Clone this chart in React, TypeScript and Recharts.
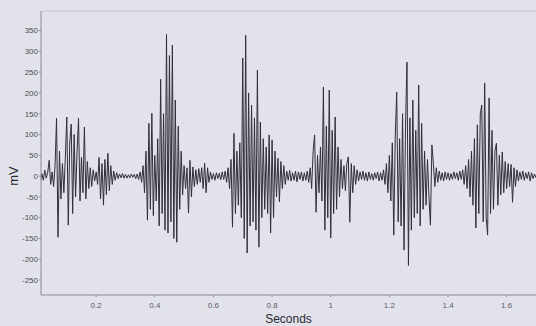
import React from "react";
import { LineChart, Line, XAxis, YAxis, ReferenceLine } from "recharts";

// sampling step of the trace (seconds)
const STEP = 0.005;

// mV values, 0.1 s per chunk
const sec00 = [-8, 12, -15, 6, -10, 14, -5, 9, 38, -20, 10, -25, 25, 139, -147, 60, -55, 30, -40, 45];
const sec01 = [142, -118, 80, 125, -90, 100, -50, 60, 139, -60, 45, -40, 118, -55, 35, -30, 20, -25, 15, -12];
const sec02 = [10, -20, 45, -55, 30, -70, 40, -45, 55, -35, 25, -20, 12, -10, 8, -6, 5, -4, 6, -5];
const sec03 = [4, -5, 3, -4, 5, -3, 4, -6, 5, -8, 10, -15, 25, -40, 60, -106, 127, -80, 151, -95];
const sec04 = [50, -60, 90, -120, 233, -90, 150, -130, 341, -137, 290, -110, 315, -150, 183, -159, 120, -80, 60, -45];
const sec05 = [25, -30, 20, -89, 38, -50, 22, -25, 15, -20, 18, -15, 20, -30, 31, -40, 20, -15, 10, -8];
const sec06 = [6, -10, 8, -6, 7, -9, 10, -8, 12, -15, 20, -30, 40, -123, 103, -90, 60, -70, 80, -100];
const sec07 = [284, -150, 339, -185, 200, -120, 171, -110, 140, -130, 255, -171, 130, -100, 90, -80, 70, -90, 99, -137];
const sec08 = [87, -100, 60, -50, 43, -62, 35, -30, 25, -20, 12, -10, 14, -12, 8, -10, 12, -14, 10, -8];
const sec09 = [10, -12, 8, -10, 12, -15, 20, -30, 60, 99, -87, 50, -40, 70, -60, 214, -130, 120, -100, 207];
const sec10 = [-149, 110, -90, 142, -80, 70, -50, 40, -30, 25, -35, 30, 46, -111, 30, -40, 25, -20, 15, -12];
const sec11 = [10, -8, 12, -10, 8, -12, 10, -8, 6, -10, 8, -6, 10, -12, 8, -10, 15, -20, 30, -40];
const sec12 = [50, -60, 80, -142, 94, 202, -110, 90, -120, 150, -178, 120, 274, -215, 140, -130, 183, -100, 110, -90];
const sec13 = [219, -120, 127, -80, 60, -70, 40, -50, -118, 75, 30, -25, 20, -15, 12, -10, 8, -12, 10, -8];
const sec14 = [8, -10, 6, -8, 10, -6, 8, -10, 12, -8, 15, -20, 25, -30, 40, -50, 60, -70, 90, -125];
const sec15 = [123, -90, 150, 171, -110, 224, -100, -142, 188, -90, 110, -80, 60, 79, -70, 50, -45, 58, -40, 35];
const sec16 = [-30, 30, -25, 28, -63, 20, -25, 15, -12, 10, -8, 12, -10, 8, -6, 10, -12, 8, -6, 5, -4];

const xTicks = [0.2, 0.4, 0.6, 0.8, 1, 1.2, 1.4, 1.6];
const yTicks = [-250, -200, -150, -100, -50, 0, 50, 100, 150, 200, 250, 300, 350];

const trace = [
  ...sec00, ...sec01, ...sec02, ...sec03, ...sec04, ...sec05, ...sec06, ...sec07, ...sec08,
  ...sec09, ...sec10, ...sec11, ...sec12, ...sec13, ...sec14, ...sec15, ...sec16,
];

const data = trace.map((mv, i) => ({ t: Number((i * STEP).toFixed(3)), mv }));

const fmtX = (v: number) => (v === 1 ? "1" : v.toFixed(1));

const App: React.FC = () => {
  const font = "'Liberation Sans', Arial, sans-serif";
  return (
    <div style={{ width: 536, height: 326, background: "#e2e2eb" }}>
      <style>{"body{margin:0;}"}</style>
      <LineChart
        width={536}
        height={326}
        data={data}
        margin={{ top: 11, right: 0, bottom: 0, left: 0 }}
        style={{ fontFamily: font }}
      >
        <XAxis
          dataKey="t"
          type="number"
          domain={[0.012, 1.7]}
          allowDataOverflow
          ticks={xTicks}
          tickFormatter={fmtX}
          height={31}
          tickSize={2}
          tickMargin={5}
          stroke="#8a8a94"
          tick={{ fontSize: 8, fill: "#5a5a64" }}
          label={{
            value: "Seconds",
            position: "insideBottom",
            offset: 3,
            style: { fontSize: 12, fill: "#2a2a33" },
          }}
        />
        <YAxis
          type="number"
          domain={[-286, 397]}
          allowDataOverflow
          ticks={yTicks}
          width={41}
          tickSize={2}
          tickMargin={1}
          stroke="#8a8a94"
          tick={{ fontSize: 8, fill: "#4a4a54" }}
          label={{
            content: () => (
              <text
                x={15}
                y={176}
                transform="rotate(-90 15 176)"
                textAnchor="middle"
                dominantBaseline="middle"
                style={{ fontSize: 13, fill: "#2a2a33", fontFamily: font }}
              >
                mV
              </text>
            ),
          }}
        />
        <ReferenceLine y={397} stroke="#c4c4ce" ifOverflow="extendDomain" />
        <Line
          type="linear"
          dataKey="mv"
          stroke="#30303c"
          strokeWidth={1}
          dot={false}
          isAnimationActive={false}
        />
      </LineChart>
    </div>
  );
};

export default App;
